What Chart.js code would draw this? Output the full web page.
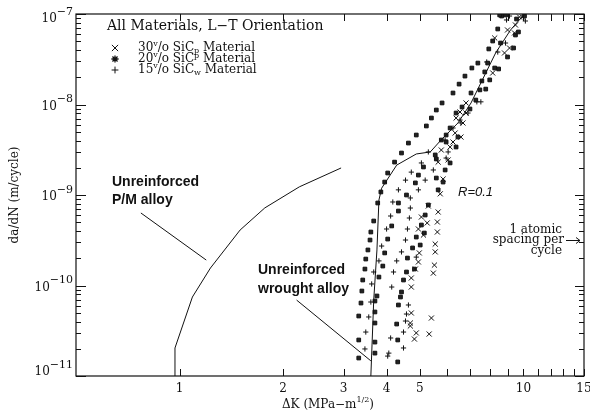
<!DOCTYPE html>
<html>
<head>
<meta charset="utf-8">
<script src="https://cdn.jsdelivr.net/npm/chart.js@4/dist/chart.umd.min.js"></script>
<style>
  body { margin: 0; background: #fff; }
  canvas { display: block; }
</style>
</head>
<body>
<canvas id="crackChart" width="590" height="412"></canvas>
<script>
// stress intensity range (MPa-m^1/2) and growth rate (m/cycle) for each material
const sic30dK = [4.72, 4.69, 4.69, 5.40, 4.88, 4.82, 5.32, 5.65, 5.62, 5.62, 5.54, 5.54, 5.51, 5.47, 5.05, 5.25,
  4.95, 5.12, 4.98, 4.95, 4.85, 4.72, 4.72, 5.77, 5.65, 6.04, 5.84, 6.24, 6.33, 5.73, 5.29, 6.81, 6.54, 6.67,
  6.58, 6.12, 6.81, 6.37, 8.14, 8.25, 8.81, 9.11, 8.99, 9.42, 9.48, 9.74, 9.93];
const sic30Rate = [4.97e-11, 3.85e-11, 3.57e-11, 4.37e-11, 2.99e-11, 2.56e-11, 2.91e-11, 6.49e-10, 5.03e-10,
  3.90e-10, 2.87e-10, 2.35e-10, 1.68e-10, 1.37e-10, 5.71e-10, 4.91e-10, 4.21e-10, 3.61e-10, 2.29e-10, 1.82e-10,
  1.52e-10, 1.21e-10, 9.62e-11, 3.14e-9, 2.31e-9, 2.44e-9, 1.50e-9, 3.85e-9, 4.84e-9, 1.03e-9, 7.56e-10, 8.05e-9,
  8.26e-9, 6.25e-9, 4.37e-9, 3.39e-9, 1.04e-8, 7.09e-9, 2.23e-8, 5.43e-8, 3.71e-8, 4.21e-8, 6.66e-8, 6.17e-8,
  7.56e-8, 9.27e-8, 9.27e-8];

const sic20dK = [3.39, 3.75, 4.39, 4.42, 3.37, 3.70, 4.33, 3.70, 3.32, 3.70, 4.28, 3.32, 3.70, 4.31, 3.32, 3.70,
  4.31, 3.77, 3.67, 3.60, 3.58, 3.53, 3.48, 3.46, 3.41, 4.33, 4.33, 4.14, 4.03, 3.95, 3.90, 3.80, 4.76, 4.60,
  4.82, 4.57, 4.48, 5.18, 5.05, 5.15, 4.88, 5.01, 5.29, 5.80, 5.58, 5.40, 5.22, 4.88, 4.63, 4.42, 4.22, 4.03,
  3.95, 3.85, 6.37, 6.12, 5.96, 5.77, 5.54, 5.58, 5.12, 4.95, 4.85, 4.57, 5.92, 5.84, 6.37, 5.58, 5.65, 6.24,
  6.50, 6.76, 7.08, 7.37, 7.93, 8.14, 8.42, 8.64, 6.63, 6.99, 7.04, 7.27, 7.47, 7.57, 7.72, 7.77, 7.98, 8.25,
  7.87, 8.47, 8.99, 8.58, 9.36, 9.67, 9.48, 9.55, 10.07, 8.53, 8.87, 5.96, 6.45, 6.12];
const sic20Rate = [8.69e-11, 7.66e-11, 7.46e-11, 8.48e-11, 6.40e-11, 6.74e-11, 6.09e-11, 5.10e-11, 4.60e-11,
  3.85e-11, 3.75e-11, 2.50e-11, 2.37e-11, 2.50e-11, 1.58e-11, 1.79e-11, 1.43e-11, 8.16e-10, 5.16e-10, 3.90e-10,
  3.18e-10, 2.47e-10, 1.96e-10, 1.52e-10, 1.15e-10, 8.16e-10, 6.65e-10, 4.55e-10, 3.26e-10, 2.29e-10, 1.64e-10,
  1.24e-10, 2.60e-10, 2.01e-10, 1.52e-10, 1.41e-10, 1.15e-10, 6.01e-10, 4.66e-10, 3.80e-10, 3.43e-10, 2.80e-10,
  7.76e-10, 1.04e-8, 8.69e-9, 7.09e-9, 5.79e-9, 4.60e-9, 3.75e-9, 2.91e-9, 2.31e-9, 1.75e-9, 1.39e-9, 1.08e-9,
  8.05e-9, 5.50e-9, 4.60e-9, 4.05e-9, 2.77e-9, 2.50e-9, 2.04e-9, 1.66e-9, 1.36e-9, 1.00e-9, 1.89e-9, 1.39e-9,
  3.39e-9, 1.54e-9, 1.14e-9, 1.34e-8, 1.68e-8, 2.06e-8, 2.53e-8, 2.87e-8, 4.11e-8, 5.03e-8, 6.83e-8, 9.50e-8,
  9.38e-9, 8.92e-9, 1.34e-8, 1.12e-8, 1.45e-8, 1.82e-8, 2.29e-8, 1.48e-8, 1.87e-8, 2.53e-8, 2.87e-8, 2.47e-8,
  3.35e-8, 4.78e-8, 4.21e-8, 6.33e-8, 5.86e-8, 8.81e-8, 9.50e-8, 9.75e-8, 9.75e-8, 3.85e-9, 4.37e-9, 2.26e-9];

const sic15dK = [3.60, 4.63, 3.55, 4.57, 4.54, 3.48, 4.48, 4.11, 3.46, 4.48, 4.06, 4.03, 4.17, 4.11, 4.69, 4.66,
  4.00, 4.60, 4.54, 3.87, 4.42, 3.80, 4.28, 4.19, 3.67, 3.62, 4.14, 4.88, 5.29, 5.05, 4.72, 5.47, 4.54, 5.18,
  4.33, 4.95, 4.69, 6.04, 5.96, 7.32, 7.52, 6.90, 6.58, 7.82, 8.42, 8.87, 8.93, 10.13, 9.11, 5.92, 6.24, 6.54];
const sic15Rate = [6.57e-11, 6.09e-11, 4.49e-11, 4.84e-11, 4.05e-11, 3.06e-11, 3.06e-11, 2.63e-11, 1.99e-11,
  2.04e-11, 1.79e-11, 1.66e-11, 8.37e-10, 5.86e-10, 7.18e-10, 5.57e-10, 4.21e-10, 4.21e-10, 3.18e-10, 2.73e-10,
  2.35e-10, 1.87e-10, 1.87e-10, 1.41e-10, 1.41e-10, 1.04e-10, 9.62e-11, 2.06e-10, 2.99e-9, 2.26e-9, 1.79e-9,
  1.89e-9, 1.46e-9, 1.46e-9, 1.14e-9, 1.14e-9, 9.27e-10, 2.99e-9, 2.56e-9, 1.07e-8, 1.07e-8, 8.05e-9, 6.25e-9,
  2.95e-8, 3.80e-8, 4.78e-8, 8.59e-8, 8.37e-8, 9.50e-8, 4.05e-9, 5.50e-9, 6.74e-9];

// unreinforced reference curves
const pmDK = [0.97, 0.97, 1.09, 1.23, 1.50, 1.77, 2.23, 2.95];
const pmRate = [1e-11, 2.04e-11, 7.46e-11, 1.56e-10, 4.1e-10, 7.2e-10, 1.23e-9, 1.99e-9];
const wroughtDK = [3.60, 3.67, 3.75, 3.80, 3.87, 4.28, 4.88, 5.36, 5.76, 6.45, 7.04, 7.72, 8.30, 9.17, 10.07];
const wroughtRate = [1e-11, 6.9e-11, 2.47e-10, 8.8e-10, 1.19e-9, 2.14e-9, 2.84e-9, 2.99e-9, 4.05e-9, 6.25e-9,
  1.04e-8, 2.12e-8, 3.71e-8, 6.65e-8, 1e-7];

// pointer lines from the curve labels
const pmPointerDK = [0.772, 1.196];
const pmPointerRate = [6.33e-10, 1.91e-10];
const wroughtPointerDK = [2.19, 3.60];
const wroughtPointerRate = [6.9e-11, 1.47e-11];

const xTickValues = [1, 2, 3, 4, 5, 10, 15];
const yDecades = [-11, -10, -9, -8, -7];

const SERIF = '"DejaVu Serif", serif';
const SANS = '"Liberation Sans", Arial, sans-serif';

function pts(xs, ys) {
  return xs.map((x, i) => ({ x: x, y: ys[i] }));
}

function lineSet(xs, ys) {
  return {
    type: 'line', data: pts(xs, ys), borderColor: '#111', borderWidth: 1,
    pointRadius: 0, tension: 0, fill: false
  };
}

const marks = {
  sic30: { pointStyle: 'crossRot', radius: 3.6, borderWidth: 1 },
  sic20: { pointStyle: 'rect', radius: 2.6, borderWidth: 1 },
  sic15: { pointStyle: 'cross', radius: 2.6, borderWidth: 1 }
};

function scatterSet(xs, ys, m) {
  return {
    type: 'scatter', data: pts(xs, ys), pointStyle: m.pointStyle, pointRadius: m.radius,
    pointBorderWidth: m.borderWidth, borderColor: '#111', backgroundColor: '#222', pointHoverRadius: m.radius
  };
}

// text made of pieces: [text, fontSize, yShift]
function drawRuns(ctx, x, y, runs, align, font) {
  let total = 0;
  runs.forEach(r => { ctx.font = r[1] + 'px ' + font; total += ctx.measureText(r[0]).width; });
  let cx = align === 'right' ? x - total : align === 'center' ? x - total / 2 : x;
  runs.forEach(r => {
    ctx.font = r[1] + 'px ' + font;
    ctx.textAlign = 'left';
    ctx.fillText(r[0], cx, y + (r[2] || 0));
    cx += ctx.measureText(r[0]).width;
  });
}

const decorations = {
  id: 'decorations',
  afterDraw(chart) {
    const ctx = chart.ctx;
    const xs = chart.scales.x, ys = chart.scales.y;
    const a = chart.chartArea;
    ctx.save();
    ctx.strokeStyle = '#111';
    ctx.fillStyle = '#111';
    ctx.lineWidth = 1.2;
    ctx.strokeRect(a.left, a.top, a.right - a.left, a.bottom - a.top);

    // inward ticks
    ctx.lineWidth = 1;
    ctx.beginPath();
    for (let v = 1; v <= 15; v++) {
      const px = Math.round(xs.getPixelForValue(v)) + 0.5;
      ctx.moveTo(px, a.bottom); ctx.lineTo(px, a.bottom - 7);
      ctx.moveTo(px, a.top); ctx.lineTo(px, a.top + 7);
    }
    yDecades.forEach(e => {
      const py = Math.round(ys.getPixelForValue(Math.pow(10, e))) + 0.5;
      ctx.moveTo(a.left, py); ctx.lineTo(a.left + 10, py);
      ctx.moveTo(a.right, py); ctx.lineTo(a.right - 9, py);
      if (e < -7) {
        for (let m = 2; m <= 9; m++) {
          const pm = Math.round(ys.getPixelForValue(m * Math.pow(10, e))) + 0.5;
          ctx.moveTo(a.left, pm); ctx.lineTo(a.left + 5, pm);
          ctx.moveTo(a.right, pm); ctx.lineTo(a.right - 5, pm);
        }
      }
    });
    ctx.stroke();

    // tick labels
    ctx.textBaseline = 'middle';
    ctx.font = '12px ' + SERIF;
    ctx.textAlign = 'center';
    xTickValues.forEach(v => ctx.fillText(String(v), xs.getPixelForValue(v), 389));
    yDecades.forEach(e => {
      let py = ys.getPixelForValue(Math.pow(10, e)) + 2;
      py = Math.min(Math.max(py, 19), 372);
      drawRuns(ctx, 73, py, [['10', 12, 0], ['\u2212' + (-e), 11, -7]], 'right', SERIF);
    });

    // axis titles
    drawRuns(ctx, 328, 405, [['\u0394K (MPa\u2212m', 12, 0], ['1/2', 8, -5], [')', 12, 0]], 'center', SERIF);
    ctx.save();
    ctx.translate(15, 195);
    ctx.rotate(-Math.PI / 2);
    ctx.font = '12px ' + SERIF;
    ctx.textAlign = 'center';
    ctx.fillText('da/dN (m/cycle)', 0, 0);
    ctx.restore();

    // heading and key
    ctx.font = '14px ' + SERIF;
    ctx.textAlign = 'left';
    ctx.fillText('All Materials, L\u2212T Orientation', 107, 26);
    const keyRows = [
      [{ pointStyle: 'crossRot', radius: 4.4, borderWidth: 1 },
        [['30', 12, 0], ['v', 8, -4], ['/o SiC', 12, 0], ['p', 8, 3], [' Material', 12, 0]]],
      [{ pointStyle: 'star', radius: 3.6, borderWidth: 1.3 },
        [['20', 12, 0], ['v', 8, -4], ['/o SiC', 12, 0], ['p', 8, -3], [' Material', 12, 0]]],
      [{ pointStyle: 'cross', radius: 3.4, borderWidth: 1 },
        [['15', 12, 0], ['v', 8, -4], ['/o SiC', 12, 0], ['w', 8, 3], [' Material', 12, 0]]]
    ];
    keyRows.forEach((row, i) => {
      const y = 48 + i * 11;
      ctx.lineWidth = row[0].borderWidth;
      Chart.helpers.drawPoint(ctx, Object.assign({ rotation: 0 }, row[0]), 115, y);
      drawRuns(ctx, 138, y, row[1], 'left', SERIF);
    });

    // curve labels
    ctx.font = 'bold 14px ' + SANS;
    ctx.textAlign = 'left';
    ctx.fillText('Unreinforced', 112, 182);
    ctx.fillText('P/M alloy', 112, 200);
    ctx.fillText('Unreinforced', 258, 270);
    ctx.fillText('wrought alloy', 258, 289);
    ctx.font = 'italic 13px ' + SANS;
    ctx.fillText('R=0.1', 458, 192);

    ctx.font = '12px ' + SERIF;
    ctx.textAlign = 'right';
    ctx.fillText('1 atomic', 562, 230);
    ctx.fillText('spacing per', 564, 240);
    ctx.fillText('cycle', 562, 251);
    ctx.beginPath();
    ctx.lineWidth = 1;
    ctx.moveTo(566, 240.5); ctx.lineTo(580, 240.5);
    ctx.moveTo(576, 237.5); ctx.lineTo(580, 240.5); ctx.lineTo(576, 243.5);
    ctx.stroke();
    ctx.restore();
  }
};

new Chart(document.getElementById('crackChart'), {
  data: {
    datasets: [
      lineSet(pmDK, pmRate),
      lineSet(wroughtDK, wroughtRate),
      lineSet(pmPointerDK, pmPointerRate),
      lineSet(wroughtPointerDK, wroughtPointerRate),
      scatterSet(sic30dK, sic30Rate, marks.sic30),
      scatterSet(sic20dK, sic20Rate, marks.sic20),
      scatterSet(sic15dK, sic15Rate, marks.sic15)
    ]
  },
  options: {
    responsive: false,
    animation: false,
    layout: { padding: { left: 76, top: 14, right: 6, bottom: 36 } },
    plugins: { legend: { display: false }, tooltip: { enabled: false } },
    scales: {
      x: { type: 'logarithmic', min: 0.5, max: 15, display: false },
      y: { type: 'logarithmic', min: 1e-11, max: 1e-7, display: false }
    }
  },
  plugins: [decorations]
});
</script>
</body>
</html>
